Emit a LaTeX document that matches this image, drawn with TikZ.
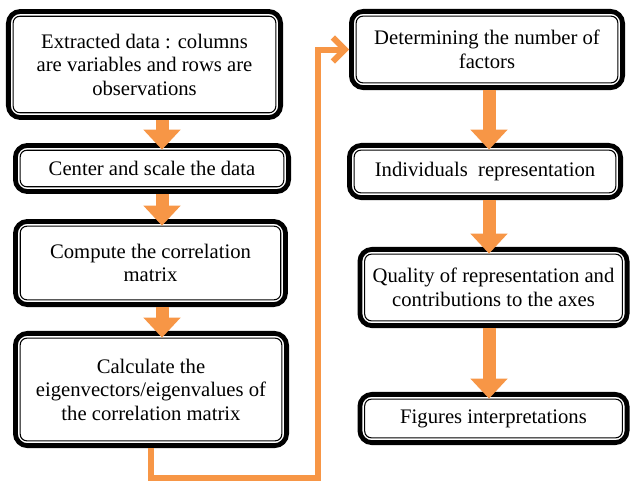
\documentclass[tikz,border=0pt]{standalone}
\usepackage{fontspec}
\setmainfont{Liberation Serif}
\usetikzlibrary{arrows.meta}

\definecolor{flowor}{HTML}{F79646}

\begin{document}
\begin{tikzpicture}[x=0.75pt, y=-0.75pt,
    every node/.style={font=\fontsize{15.5}{17.6}\selectfont, align=center},
    stage/.style={draw, line width=3.6pt, rounded corners=9pt, fill=white, inner sep=0pt},
    flow/.style={draw=flowor, line width=9.75pt, -{Triangle[width=27pt,length=15pt]}, shorten >=-5pt},
    back/.style={draw=flowor, line width=4.5pt, -{Straight Barb[length=9pt,width=18pt]}}]
    \useasboundingbox (0,0) rectangle (630,483);
    % left column
    \node[stage, minimum width=204.2pt, minimum height=79.6pt] (b1) at (144.5,64.5) {Extracted data : columns\\are variables and rows are\\observations};
    \node[stage, minimum width=204.9pt, minimum height=34.6pt] (b2) at (152,168.5) {Center and scale the data};
    \node[stage, minimum width=202.6pt, minimum height=62.4pt] (b3) at (150.5,263) {Compute the correlation\\matrix};
    \node[stage, minimum width=203.4pt, minimum height=84.2pt] (b4) at (151,389.5) {Calculate the\\eigenvectors/eigenvalues of\\the correlation matrix};
    % right column
    \node[stage, minimum width=203.4pt, minimum height=57.2pt] (b5) at (487,49.5) {Determining the number of\\factors};
    \node[stage, minimum width=203.4pt, minimum height=39.2pt] (b6) at (485,171.5) {Individuals\ \ representation};
    \node[stage, minimum width=200.4pt, minimum height=57.2pt] (b7) at (493.5,287.5) {Quality of representation and\\contributions to the axes};
    \node[stage, minimum width=200.4pt, minimum height=36.2pt] (b8) at (493.5,418.5) {Figures interpretations};
    \foreach \n in {b1,b2,b3,b4,b5,b6,b7,b8}
        \draw[line width=0.8pt, rounded corners=5pt] ([shift={(5.4pt,5.4pt)}]\n.south west) rectangle ([shift={(-5.4pt,-5.4pt)}]\n.north east);
    % arrows
    \coordinate (lx) at (162,0);
    \coordinate (rx) at (489,0);
    \draw[flow] (b1.south -| lx) -- (b2.north -| lx);
    \draw[flow] (b2.south -| lx) -- (b3.north -| lx);
    \draw[flow] (b3.south -| lx) -- (b4.north -| lx);
    \draw[flow] (b5.south -| rx) -- (b6.north -| rx);
    \draw[flow] (b6.south -| rx) -- (b7.north -| rx);
    \draw[flow] (b7.south -| rx) -- (b8.north -| rx);
    \coordinate (fb) at (318,478);
    \draw[back] (b4.south) |- (fb) |- (b5.west);
\end{tikzpicture}
\end{document}
